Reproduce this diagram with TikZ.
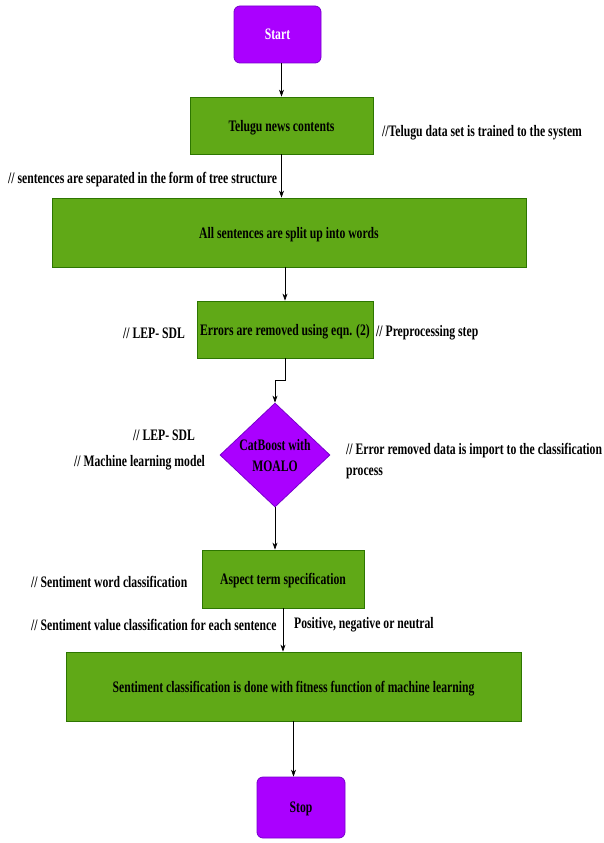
\documentclass[tikz,border=0pt]{standalone}
\usepackage{fontspec}
\setmainfont{Liberation Serif}[FakeStretch=0.73]
\usetikzlibrary{shapes.geometric,arrows.meta}
\definecolor{procfill}{HTML}{60A917}
\definecolor{procline}{HTML}{2D7600}
\definecolor{termfill}{HTML}{AA00FF}
\definecolor{termline}{HTML}{7700CC}
\begin{document}
\begin{tikzpicture}[x=1pt,y=-1pt,
  font=\fontsize{16}{21}\selectfont\bfseries,
  proc/.style={draw=procline,fill=procfill,line width=0.8pt,inner sep=0pt,text depth=0pt,text=black},
  term/.style={draw=termline,fill=termfill,line width=0.8pt,rounded corners=6pt,inner sep=0pt,text depth=0pt},
  note/.style={inner sep=0pt,anchor=west,text=black},
  arr/.style={-{Stealth[length=7pt,width=5pt]},line width=0.6pt,black}]
\useasboundingbox (0,0) rectangle (603,843);

% terminals and process steps
\node[term,minimum width=87pt,minimum height=57pt,text=white] (start) at (277.5,34.5) {Start};
\node[proc,minimum width=183pt,minimum height=57pt] (telugu) at (281.5,125.5) {Telugu news contents};
\node[proc,minimum width=474pt,minimum height=69pt] (split) at (289,232.5) {All sentences are split up into words};
\node[proc,minimum width=176pt,minimum height=57pt] (errors) at (285,329.5) {Errors are removed using eqn. (2)};
\node[shape=diamond,draw=termline,fill=termfill,line width=0.8pt,inner sep=0pt,
      minimum width=110pt,minimum height=104pt] (model) at (275,455) {};
\node[align=center,text=black] (modeltext) at (275,456) {CatBoost with\\MOALO};
\node[proc,minimum width=162pt,minimum height=58pt] (aspect) at (283,579) {Aspect term specification};
\node[proc,minimum width=455pt,minimum height=69pt] (sentiment) at (293.5,686.5) {Sentiment classification is done with fitness function of machine learning};
\node[term,minimum width=88pt,minimum height=61pt,text=black] (stop) at (301,807.5) {Stop};

% flow
\draw[arr] (telugu.north |- start.south) -- (telugu.north);
\draw[arr] (telugu.south) -- (telugu.south |- split.north);
\draw[arr] (errors.north |- split.south) -- (errors.north);
\draw[arr] (errors.south) -- ++(0,22) -| (model.north);
\draw[arr] (model.south) -- (model.south |- aspect.north);
\draw[arr] (aspect.south) -- (aspect.south |- sentiment.north);
\draw[arr] (sentiment.south) -- (sentiment.south |- stop.north);

% comments
\node[note] (n1) at (382,133) {//Telugu data set is trained to the system};
\node[note] (n2) at (8,180) {// sentences are separated in the form of tree structure};
\node[note] (n3) at (123,333) {// LEP- SDL};
\node[note] (n4) at (376,333) {// Preprocessing step};
\node[note] (n5) at (133,435) {// LEP- SDL};
\node[note] (n6) at (74,463) {// Machine learning model};
\node[note,align=left,anchor=north west] (n7) at (346,443) {// Error removed data is import to the classification\\process};
\node[note] (n8) at (31,582) {// Sentiment word classification};
\node[note] (n9) at (31,625) {// Sentiment value classification for each sentence};
\node[note] (n10) at (294,625) {Positive, negative or neutral};
\end{tikzpicture}
\end{document}
